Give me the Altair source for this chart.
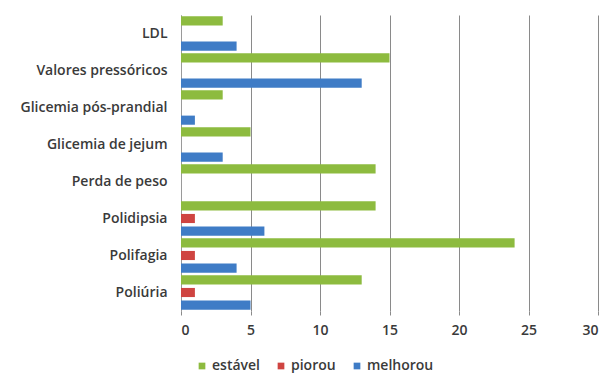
import altair as alt
import pandas as pd

categories = ["LDL", "Valores pressóricos", "Glicemia pós-prandial", "Glicemia de jejum",
              "Perda de peso", "Polidipsia", "Polifagia", "Poliúria"]
series = ["estável", "piorou", "melhorou"]
estavel = [3, 15, 3, 5, 14, 14, 24, 13]
piorou = [0, 0, 0, 0, 0, 1, 1, 1]
melhorou = [4, 13, 1, 3, 0, 6, 4, 5]
x_ticks = [0, 5, 10, 15, 20, 25, 30]
colors = ["#8DBB3F", "#CF4441", "#3F7CC6"]

rows = []
for i, c in enumerate(categories):
    for s, vals in zip(series, [estavel, piorou, melhorou]):
        rows.append({"cat": c, "serie": s, "valor": vals[i]})
df = pd.DataFrame(rows)
df = df[df["valor"] > 0]

font = "Open Sans"
fs = 14
fw = 600
tc = "#3a3a3a"

bars = alt.Chart(df).mark_bar(cornerRadius=0).encode(
    y=alt.Y("cat:N", sort=categories,
            scale=alt.Scale(paddingInner=0, paddingOuter=0),
            axis=alt.Axis(title=None, ticks=False, domain=True, domainColor="#9a9a9a",
                          labelFont=font, labelFontSize=fs, labelFontWeight=fw, labelColor=tc,
                          labelPadding=14, grid=False)),
    yOffset=alt.YOffset("serie:N", sort=series,
                        scale=alt.Scale(domain=series, paddingInner=0.28, paddingOuter=0.1)),
    x=alt.X("valor:Q", scale=alt.Scale(domain=[0, 30], nice=False),
            axis=alt.Axis(title=None, values=x_ticks, grid=True, gridColor="#8a8a8a",
                          gridWidth=1, domain=False, ticks=True, tickColor="#8a8a8a",
                          tickSize=4, labelFont=font, labelFontSize=fs, labelFontWeight=fw,
                          labelColor=tc, labelPadding=8)),
    color=alt.Color("serie:N", sort=series,
                    scale=alt.Scale(domain=series, range=colors),
                    legend=alt.Legend(title=None, orient="none", direction="horizontal",
                                      legendX=14, legendY=344, symbolType="square",
                                      symbolSize=45, labelFont=font, labelFontSize=fs,
                                      labelFontWeight=fw, labelColor=tc, columnPadding=14,
                                      labelOffset=3, symbolStrokeWidth=0)),
)

chart = bars.properties(
    width=417, height=296,
    padding={"left": 181, "top": 15, "right": 13, "bottom": 65},
    autosize=alt.AutoSizeParams(type="none"),
    background="white",
).configure_view(stroke=None)

chart.save("out.html", embed_options={"renderer": "svg", "actions": False})
